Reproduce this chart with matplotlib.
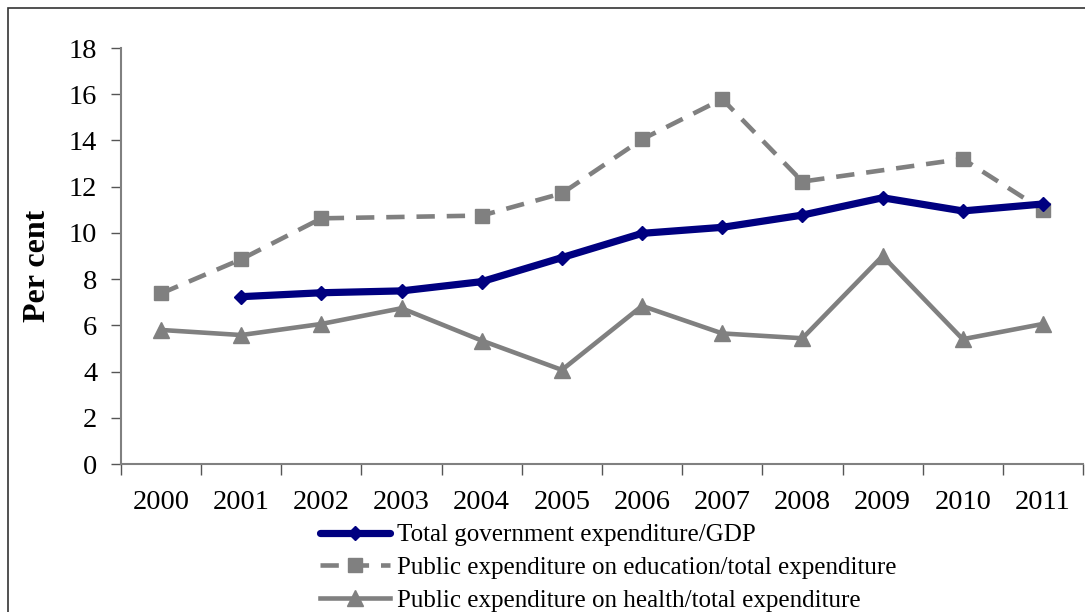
import matplotlib
matplotlib.use('Agg')
import matplotlib.pyplot as plt
import numpy as np
from matplotlib.patches import Rectangle

# -----------------------------------------------------------------------------
# données
# -----------------------------------------------------------------------------
years = ['2000', '2001', '2002', '2003', '2004', '2005',
         '2006', '2007', '2008', '2009', '2010', '2011']
total_gdp = [np.nan, 7.24, 7.41, 7.49, 7.89, 8.93, 9.98, 10.24, 10.77, 11.52, 10.95, 11.25]
education = [7.38, 8.86, 10.63, np.nan, 10.75, 11.71, 14.05, 15.79, 12.22, np.nan, 13.2, 10.99]
health = [5.8, 5.58, 6.06, 6.74, 5.34, 4.07, 6.84, 5.65, 5.44, 9.0, 5.4, 6.06]

labels = ['Total government expenditure/GDP',
          'Public expenditure on education/total expenditure',
          'Public expenditure on health/total expenditure']

plt.rcParams['font.family'] = ['Liberation Serif', 'DejaVu Serif']

W, H = 1085, 612
fig = plt.figure(figsize=(W / 100, H / 100), dpi=100)
ax = fig.add_axes([121 / W, 1 - 464 / H, (1083 - 121) / W, (464 - 48) / H])

x = np.arange(len(years))
grey = '#808080'


def plot_serie(vals, **kw):
    v = np.array(vals, dtype=float)
    ok = ~np.isnan(v)
    return ax.plot(x[ok], v[ok], **kw)[0]


l1 = plot_serie(total_gdp, color='#000080', lw=5.2, marker='D', ms=7,
                solid_capstyle='round', label=labels[0], zorder=3)
l2 = plot_serie(education, color=grey, lw=3.3, ls=(0, (4, 2.6)), marker='s', ms=10.5,
                label=labels[1], zorder=2)
l3 = plot_serie(health, color=grey, lw=3.3, marker='^', ms=12,
                label=labels[2], zorder=2)

ax.set_xlim(-0.5, 11.5)
ax.set_ylim(0, 18)
ax.set_yticks(np.arange(0, 19, 2))
ax.set_xticks(np.arange(-0.5, 12, 1))
ax.set_xticklabels([])
ax.set_xticks(x, minor=True)
ax.set_xticklabels(years, minor=True)
ax.tick_params(axis='x', which='minor', length=0, pad=19, labelsize=20.5)
ax.tick_params(axis='x', which='major', length=8, width=1, color='#555555', direction='out')
ax.tick_params(axis='y', length=7, width=1, color='#555555', direction='out', labelsize=20.5, pad=10)

for s in ['top', 'right']:
    ax.spines[s].set_visible(False)
for s in ['left', 'bottom']:
    ax.spines[s].set_color(grey)
    ax.spines[s].set_linewidth(1.5)

ax.set_ylabel('Per cent', fontsize=23, fontweight='bold', labelpad=12)
ax.yaxis.label.set_y(0.476)

leg = fig.legend(handles=[l1, l2, l3], loc='upper left', bbox_to_anchor=(320 / W, 1 - 524 / H),
                 frameon=False, fontsize=18, handlelength=2.8, handletextpad=0.28,
                 labelspacing=0.4, borderaxespad=0, borderpad=0)

# cadre
fig.patches.append(Rectangle((8 / W, -0.1), 1.2, 1 - 8 / H + 0.1, transform=fig.transFigure,
                             fill=False, edgecolor='#333333', lw=1.2))

fig.savefig('out.png', dpi=100)
